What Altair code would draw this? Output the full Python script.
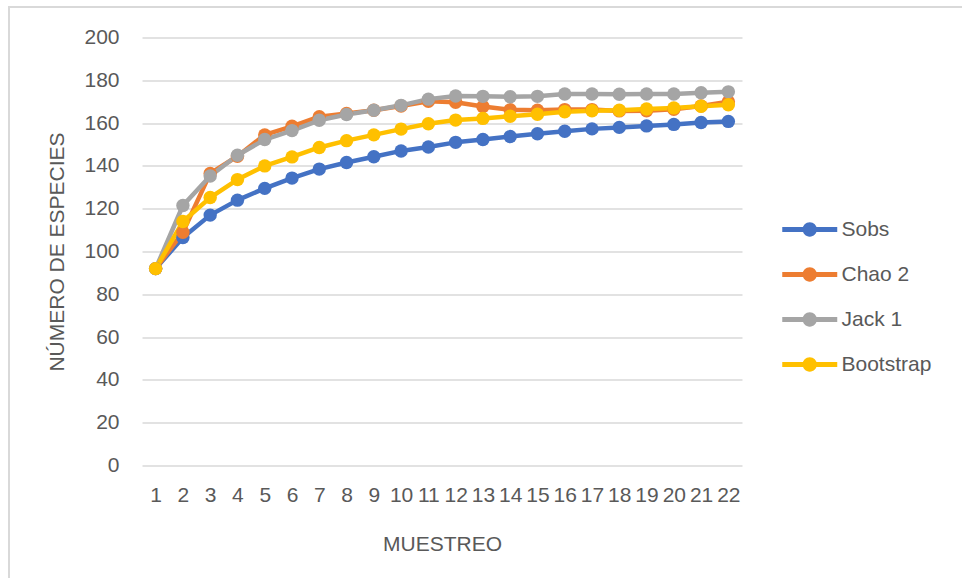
import altair as alt
import pandas as pd

muestreo = list(range(1, 23))
series_names = ["Sobs", "Chao 2", "Jack 1", "Bootstrap"]
sobs = [92, 106.5, 117, 124, 129.5, 134.3, 138.5, 141.6, 144.3, 147, 148.8, 151,
        152.3, 153.7, 155, 156.2, 157.3, 158, 158.7, 159.4, 160.3, 160.8]
chao2 = [92, 109, 136.5, 144.5, 154.5, 158.5, 163, 164.5, 166, 168, 170.2, 169.7,
         167.8, 166.2, 166, 166.3, 166.3, 165.7, 165.8, 166.5, 168, 170]
jack1 = [92, 121.5, 135.3, 145, 152.3, 156.5, 161.3, 164, 166, 168.3, 171.2, 172.7,
         172.5, 172.3, 172.5, 173.6, 173.6, 173.5, 173.6, 173.6, 174.2, 174.6]
bootstrap = [92, 114, 125.2, 133.6, 140, 144.2, 148.6, 151.8, 154.5, 157.2, 159.7, 161.4,
             162.2, 163.2, 164.1, 165.3, 165.8, 166, 166.6, 167.1, 167.9, 168.6]
y_ticks = [0, 20, 40, 60, 80, 100, 120, 140, 160, 180, 200]
colors = ["#4472C4", "#ED7D31", "#A5A5A5", "#FFC000"]

rows = []
for name, vals in zip(series_names, [sobs, chao2, jack1, bootstrap]):
    for m, v in zip(muestreo, vals):
        rows.append({"MUESTREO": m, "serie": name, "valor": v})
df = pd.DataFrame(rows)

FONT = "Liberation Sans"
TXT = "#595959"
GRID = "#D9D9D9"

x_enc = alt.X("MUESTREO:O", title="MUESTREO",
              scale=alt.Scale(type="point", padding=0.5),
              axis=alt.Axis(labelAngle=0, grid=False, domain=False, ticks=False,
                            tickSize=0, labelPadding=19, labelBaseline="top",
                            titleX=300, titleY=79, titleBaseline="middle",
                            labelFontSize=21, titleFontSize=21, labelFlush=False,
                            labelOverlap=False))
y_enc = alt.Y("valor:Q", title="NÚMERO DE ESPECIES",
              scale=alt.Scale(domain=[0, 200], nice=False, zero=True),
              axis=alt.Axis(values=y_ticks, grid=True, gridColor=GRID, gridWidth=1.6,
                            domain=False, ticks=False, tickSize=0, labelPadding=23,
                            titleX=-85, titleY=214, titleBaseline="middle",
                            titleAngle=-90, labelFontSize=21, titleFontSize=21))

legend_path = ("M-2,-0.18 L2,-0.18 L2,0.18 L-2,0.18 Z "
               "M0.52,0 A0.52,0.52 0 1,1 -0.52,0 A0.52,0.52 0 1,1 0.52,0 Z")

color_enc = alt.Color("serie:N", sort=series_names,
                      scale=alt.Scale(domain=series_names, range=colors),
                      legend=alt.Legend(title=None, orient="none", legendX=653.75,
                                        legendY=178, symbolType=legend_path,
                                        symbolSize=756, symbolStrokeWidth=0,
                                        labelOffset=17.75, rowPadding=21,
                                        labelFontSize=21, labelColor=TXT, labelFont=FONT,
                                        padding=0, symbolOpacity=1))

base = alt.Chart(df).encode(x=x_enc, y=y_enc, color=color_enc,
                            order=alt.Order("MUESTREO:Q"))
lines = base.mark_line(strokeWidth=4.5, strokeCap="round", strokeJoin="round")
points = base.mark_point(filled=True, size=180, opacity=1, shape="circle")

border = alt.Chart(alt.Data(values=[{"a": 1}])).mark_rect(
    fill=None, stroke=GRID, strokeWidth=2
).encode(x=alt.value(-133), x2=alt.value(1000), y=alt.value(-30.5), y2=alt.value(700))

chart = alt.layer(border, lines, points).properties(
    width=600, height=428,
    autosize=alt.AutoSizeParams(type="none"),
    padding={"left": 142, "top": 37.5, "right": 220, "bottom": 112.5},
    background="white",
).configure_view(stroke=None).configure_axis(
    labelFont=FONT, titleFont=FONT, labelColor=TXT, titleColor=TXT,
    titleFontWeight="normal"
)

chart.save("out.html", embed_options={"renderer": "svg", "actions": False})
